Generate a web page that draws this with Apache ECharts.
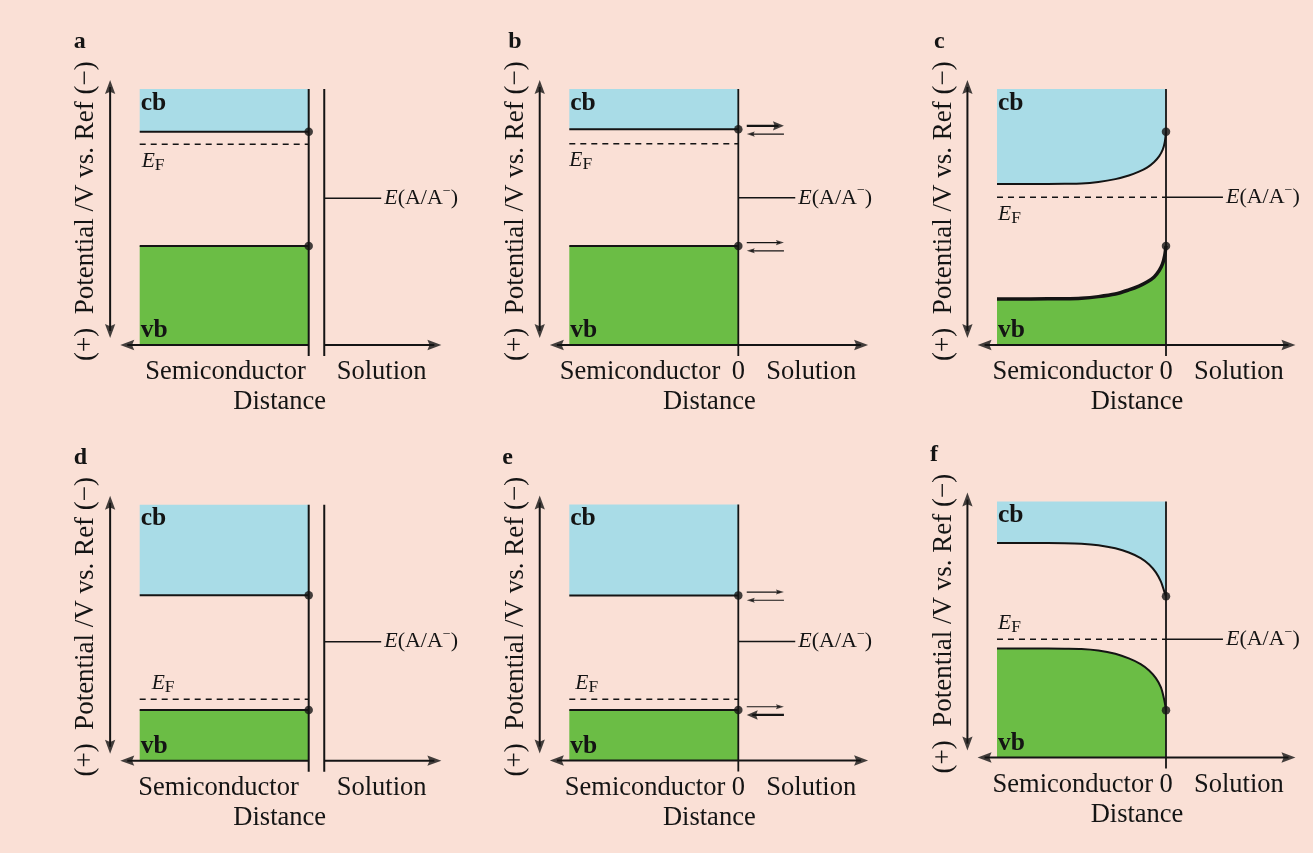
<!DOCTYPE html>
<html>
<head>
<meta charset="utf-8">
<script src="https://cdn.jsdelivr.net/npm/echarts/dist/echarts.min.js"></script>
<style>
  html, body { margin: 0; padding: 0; background: #ffffff; }
  #chart { width: 1313px; height: 853px; }
</style>
</head>
<body>
<div id="chart"></div>
<script>
// ---- Energy-level data (arbitrary potential units: 0 = distance axis, 10 = top of drawn bands) ----
const panelLetters = ['a', 'b', 'c', 'd', 'e', 'f'];
const cbSurface  = [8.33, 8.43, 8.33, 6.46, 6.45, 6.30];   // conduction-band edge at the interface
const vbSurface  = [3.87, 3.87, 3.87, 1.98, 1.97, 1.85];   // valence-band edge at the interface
const fermiLevel = [7.84, 7.86, 5.77, 2.40, 2.39, 4.62];   // E_F in the semiconductor
const redoxLevel = [5.73, 5.75, 5.77, 4.65, 4.65, 4.62];   // E(A/A-) in solution
const separated  = [true, false, false, true, false, false]; // semiconductor and solution not in contact

// Band profiles [distance, energy] for the panels with band bending
const cbProfileC = [[-10, 6.29], [-8, 6.29], [-6, 6.30], [-5, 6.31], [-4, 6.37], [-3, 6.48], [-2.2, 6.62],
                    [-1.6, 6.77], [-1.1, 6.94], [-0.7, 7.15], [-0.4, 7.38], [-0.2, 7.62], [-0.08, 7.90], [0, 8.33]];
const vbProfileC = [[-10, 1.80], [-8, 1.80], [-6, 1.81], [-5, 1.83], [-4, 1.89], [-3, 1.99], [-2.2, 2.15],
                    [-1.6, 2.30], [-1.1, 2.47], [-0.7, 2.66], [-0.4, 2.91], [-0.2, 3.18], [-0.08, 3.48], [0, 3.87]];
const cbProfileF = [[-10, 8.38], [-8, 8.38], [-6, 8.37], [-5, 8.35], [-4, 8.29], [-3, 8.17], [-2.2, 8.01],
                    [-1.5, 7.79], [-1.0, 7.54], [-0.6, 7.23], [-0.3, 6.87], [-0.12, 6.52], [0, 6.30]];
const vbProfileF = [[-10, 4.26], [-8, 4.26], [-6, 4.25], [-5, 4.24], [-4, 4.18], [-3, 4.05], [-2.2, 3.87],
                    [-1.5, 3.65], [-1.0, 3.40], [-0.6, 3.10], [-0.3, 2.74], [-0.12, 2.30], [0, 1.85]];

// Interfacial charge-transfer arrows: panel index, band, which direction is emphasised
const exchangeArrows = [
  { panel: 1, band: 'cb', heavy: 'forward' },
  { panel: 1, band: 'vb', heavy: null },
  { panel: 4, band: 'cb', heavy: null },
  { panel: 4, band: 'vb', heavy: 'back' }
];

// ---- Layout ----
const SX = 16.9, SY = 25.6;                       // px per unit
const origins = [[308.7, 345], [738.3, 345], [1166, 345], [308.7, 760.7], [738.3, 760.5], [1166, 757.5]];
const BAND_START = -10, BAND_TOP = 10;
const SOLUTION_X = 0.92, REDOX_LEN = 3.37;
const AXIS_X = -11.75, AXIS_Y0 = 0.27, AXIS_Y1 = 10.35;
const HAXIS_L = -11.15, IFACE_LOW = -0.43;
const HAXIS_R = [7.85, 7.68, 7.66, 7.85, 7.68, 7.66];
const XCH_FROM = 0.5, XCH_TO = 2.7;
const efAbove = [false, false, false, true, true, true];
const efShift = [2, 0, 1, 12, 6, 1];
const semiShift = [-3, -18, -13, -10, -13, -13];
const letterShift = [-66, -61, -63, -66, -67, -67];

const INK = '#141414';
const CB_FILL = '#a9dce7';
const VB_FILL = '#6bbd45';
const BG = '#fae0d6';
const SERIF = '"Liberation Serif", "Times New Roman", serif';
const HEAD = 'path://M0,0L6,14L0,11.8L-6,14Z';   // arrowhead, tip at top

const grids = [], xAxes = [], yAxes = [], series = [];

function flat(level) { return [[BAND_START, level], [0, level]]; }
function seg(i, data, style, z) {
  return { type: 'line', xAxisIndex: i, yAxisIndex: i, data, symbol: 'none', silent: true, clip: false,
           lineStyle: Object.assign({ color: INK, width: 2 }, style), z: z || 3 };
}
// arrowhead whose tip sits exactly on the given point
const DIRS = { up: [0, 0, 1], down: [180, 0, -1], left: [90, 1, 0], right: [-90, -1, 0] };
function head(i, pt, dir, w, h) {
  const [rot, ox, oy] = DIRS[dir];
  return { type: 'scatter', xAxisIndex: i, yAxisIndex: i, silent: true, clip: false,
           symbol: HEAD, symbolKeepAspect: true, symbolSize: [w, h], symbolRotate: rot,
           symbolOffset: [ox * h / 2, oy * h / 2],
           itemStyle: { color: INK }, data: [pt], z: 6 };
}
// shaft from a to b with a head at b (and optionally at a)
function arrow(i, a, b, opt) {
  const horiz = a[1] === b[1];
  const pull = (p, q, px) => horiz
    ? [p[0] + Math.sign(q[0] - p[0]) * px / SX, p[1]]
    : [p[0], p[1] + Math.sign(q[1] - p[1]) * px / SY];
  const cut = opt.h * 0.5;
  const s0 = opt.both ? pull(a, b, cut) : a;
  const s1 = pull(b, a, cut);
  const dirOf = (from, to) => horiz ? (to[0] > from[0] ? 'right' : 'left') : (to[1] > from[1] ? 'up' : 'down');
  const out = [seg(i, [s0, s1], { width: opt.lw }, 5), head(i, b, dirOf(a, b), opt.w, opt.h)];
  if (opt.both) out.push(head(i, a, dirOf(b, a), opt.w, opt.h));
  return out;
}
const AXIS_HEAD = { w: 12, h: 14, lw: 2 };

panelLetters.forEach((p, i) => {
  const [ox, oy] = origins[i];
  grids.push({ left: ox - 12 * SX, top: oy - 11.5 * SY, width: 20 * SX, height: 12.5 * SY });
  xAxes.push({ type: 'value', gridIndex: i, min: -12, max: 8, show: false });
  yAxes.push({ type: 'value', gridIndex: i, min: -1, max: 11.5, show: false });

  const bent = i === 2 || i === 5;
  const cb = i === 2 ? cbProfileC : i === 5 ? cbProfileF : flat(cbSurface[i]);
  const vb = i === 2 ? vbProfileC : i === 5 ? vbProfileF : flat(vbSurface[i]);

  // conduction band (filled upward) and valence band (filled downward)
  series.push(Object.assign(seg(i, cb, { width: 2 }, 2), {
    smooth: bent ? 0.3 : false,
    areaStyle: { color: CB_FILL, opacity: 1, origin: BAND_TOP }
  }));
  series.push(Object.assign(seg(i, vb, { width: i === 2 ? 3.5 : 2 }, 2), {
    smooth: bent ? 0.3 : false,
    areaStyle: { color: VB_FILL, opacity: 1, origin: 0 }
  }));

  // Fermi level
  series.push(seg(i, [[BAND_START, fermiLevel[i]], [0, fermiLevel[i]]], { width: 1.5, type: [6, 5] }));

  // interface / solution boundary
  series.push(seg(i, [[0, IFACE_LOW], [0, BAND_TOP]], { width: separated[i] ? 2 : 1.8 }, 4));
  const redoxStart = separated[i] ? SOLUTION_X : 0;
  if (separated[i]) series.push(seg(i, [[SOLUTION_X, IFACE_LOW], [SOLUTION_X, BAND_TOP]], { width: 2 }, 4));

  // redox level of the solution
  series.push(seg(i, [[redoxStart, redoxLevel[i]], [redoxStart + REDOX_LEN, redoxLevel[i]]], { width: 1.5 }));

  // surface band-edge dots
  series.push({ type: 'scatter', xAxisIndex: i, yAxisIndex: i, silent: true, symbolSize: 8.5,
                itemStyle: { color: INK }, data: [[0, cbSurface[i]], [0, vbSurface[i]]], z: 6 });

  // potential axis (double arrow)
  series.push(...arrow(i, [AXIS_X, AXIS_Y0], [AXIS_X, AXIS_Y1], Object.assign({ both: true }, AXIS_HEAD)));
  // distance axis
  if (separated[i]) {
    series.push(...arrow(i, [0, 0], [HAXIS_L, 0], AXIS_HEAD));
    series.push(...arrow(i, [SOLUTION_X, 0], [HAXIS_R[i], 0], AXIS_HEAD));
  } else {
    series.push(...arrow(i, [HAXIS_L, 0], [HAXIS_R[i], 0], Object.assign({ both: true }, AXIS_HEAD)));
  }
});

// charge-exchange arrows at the band edges
exchangeArrows.forEach(a => {
  const lvl = a.band === 'cb' ? cbSurface[a.panel] : vbSurface[a.panel];
  const thin = { w: 6, h: 8, lw: 1.2 }, bold = { w: 11, h: 11, lw: 2.2 };
  series.push(...arrow(a.panel, [XCH_FROM, lvl + 0.13], [XCH_TO, lvl + 0.13], a.heavy === 'forward' ? bold : thin));
  series.push(...arrow(a.panel, [XCH_TO, lvl - 0.19], [XCH_FROM, lvl - 0.19], a.heavy === 'back' ? bold : thin));
});

const chart = echarts.init(document.getElementById('chart'));
chart.setOption({
  backgroundColor: BG,
  animation: false,
  grid: grids, xAxis: xAxes, yAxis: yAxes, series
});

// ---- Text ----
function mid(baseline, fs) { return baseline - 0.34 * fs; }
function txt(x, y, text, st, extra) {
  return Object.assign({ type: 'text', x, y, silent: true, z: 10,
    style: Object.assign({ text, fill: INK, fontFamily: SERIF, fontSize: 26.5,
      align: 'left', textAlign: 'left', verticalAlign: 'middle', textVerticalAlign: 'middle' }, st) }, extra || {});
}
const graphics = [];
panelLetters.forEach((p, i) => {
  const px = (x, y) => chart.convertToPixel({ gridIndex: i }, [x, y]);
  const [bx, by] = px(BAND_START, BAND_TOP);
  const [ix, iy] = px(0, 0);

  graphics.push(txt(bx + letterShift[i], mid(by - 39, 24), p, { fontSize: 24, fontWeight: 'bold' }));
  graphics.push(txt(bx + 1, mid(by + 22.7, 25), 'cb', { fontSize: 25.5, fontWeight: 'bold' }));
  graphics.push(txt(bx + 1, mid(iy - 6, 25), 'vb', { fontSize: 25.5, fontWeight: 'bold' }));

  // E_F
  const [, ey] = px(BAND_START, fermiLevel[i]);
  const efBase = ey + (efAbove[i] ? -9 : 24);
  graphics.push(txt(bx + efShift[i], efBase - 20.1, '{e|E}{f|F}', {
    verticalAlign: 'top', textVerticalAlign: 'top',
    rich: {
      e: { fontFamily: SERIF, fontSize: 21.5, fontStyle: 'italic', lineHeight: 26, fill: INK },
      f: { fontFamily: SERIF, fontSize: 17.5, lineHeight: 17, verticalAlign: 'bottom', fill: INK }
    }
  }));

  // E(A/A-)
  const redoxStart = separated[i] ? SOLUTION_X : 0;
  const [rx, ry] = px(redoxStart + REDOX_LEN, redoxLevel[i]);
  graphics.push(txt(rx + 3, ry, '{e|E}{n|(A/A}{s|\u2212}{n|)}', {
    rich: {
      e: { fontFamily: SERIF, fontSize: 22, fontStyle: 'italic', lineHeight: 28, fill: INK },
      n: { fontFamily: SERIF, fontSize: 22, lineHeight: 28, fill: INK },
      s: { fontFamily: SERIF, fontSize: 14, lineHeight: 14, verticalAlign: 'top', fill: INK }
    }
  }));

  // distance-axis titles
  const base1 = mid(iy + 36.5, 26.5);
  graphics.push(txt(ix + semiShift[i], base1, 'Semiconductor', { align: 'right', textAlign: 'right' }));
  if (!separated[i]) graphics.push(txt(ix, base1, '0', { align: 'center', textAlign: 'center' }));
  graphics.push(txt(ix + 28, base1, 'Solution'));
  graphics.push(txt(ix - 29, mid(iy + 66.5, 26.5), 'Distance', { align: 'center', textAlign: 'center' }));

  // potential-axis title
  const [ax0, ay0] = px(AXIS_X, AXIS_Y0);
  const [, ay1] = px(AXIS_X, AXIS_Y1);
  graphics.push(txt(ax0 - 24, (ay0 + ay1) / 2 + 2, '(+)  Potential /V vs. Ref (\u2212)',
    { align: 'center', textAlign: 'center', fontSize: 27 }, { rotation: Math.PI / 2 }));
});
chart.setOption({ graphic: { elements: graphics } });
</script>
</body>
</html>
